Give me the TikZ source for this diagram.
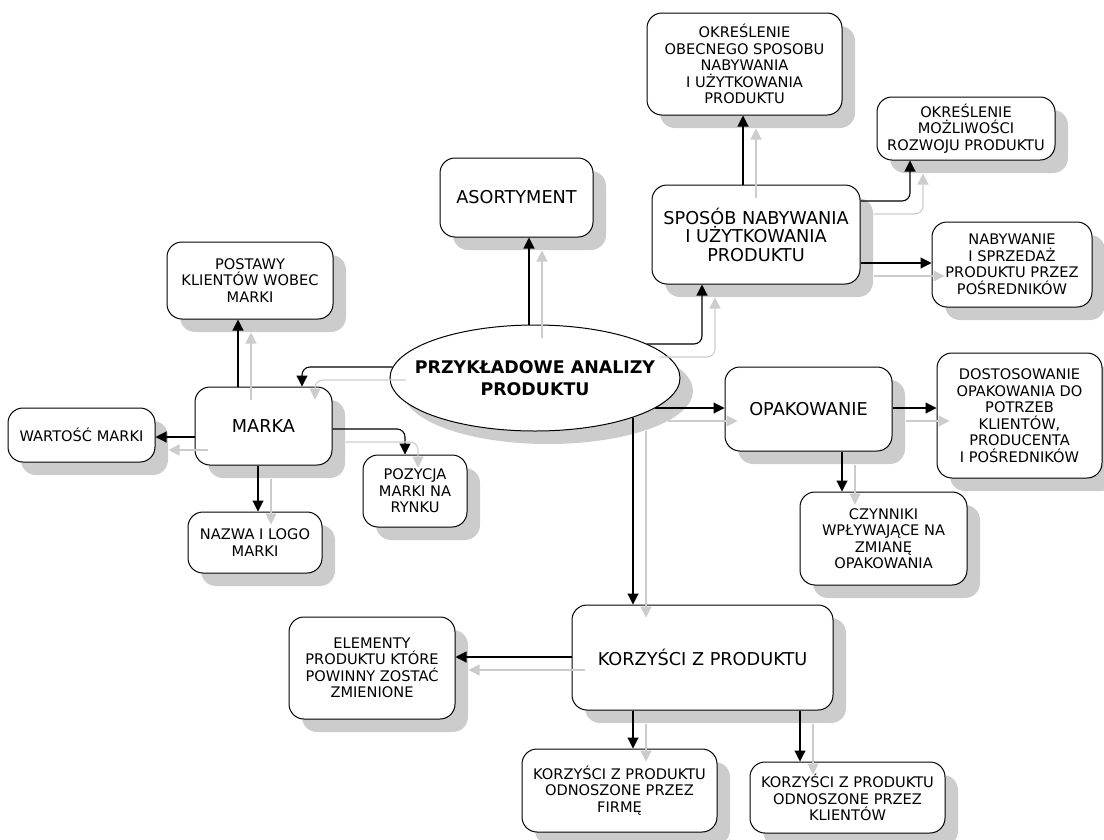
\documentclass[tikz,border=0pt]{standalone}
\usepackage{fontspec}
\setmainfont{DejaVu Sans}
\usetikzlibrary{shadows,calc,arrows.meta,shapes.geometric}
\definecolor{shgray}{RGB}{204,204,204}
\tikzset{
  box/.style={draw=black, line width=1pt, rounded corners=15pt, fill=white, align=center, inner sep=2pt,
    drop shadow={shadow xshift=13pt, shadow yshift=-13pt, fill=shgray, opacity=1}},
  ellbox/.style={draw=black, line width=1pt, ellipse, fill=white, align=center, inner xsep=-24pt, inner ysep=0pt,
    drop shadow={shadow xshift=13pt, shadow yshift=-13pt, fill=shgray, opacity=1}},
  sm/.style={font=\fontsize{14.6}{16.5}\selectfont},
  bg/.style={font=\fontsize{17.7}{18.5}\selectfont},
  conn/.style={draw=black, line width=1.1pt, rounded corners=8pt, -{Triangle[length=11pt,width=11pt]}},
  gconn/.style={draw=shgray, line width=1.1pt, rounded corners=8pt, -{Triangle[length=11pt,width=11pt]},
    transform canvas={shift={(13,13)}}}
}
\begin{document}
\begin{tikzpicture}[x=1pt,y=-1pt]
\useasboundingbox (0,0) rectangle (1104,839);
\clip (0,0) rectangle (1104,839);
% nodes
\node[box, sm, minimum width=195pt, minimum height=102pt] (okr1) at (744.5,64) {OKREŚLENIE\\OBECNEGO SPOSOBU\\NABYWANIA\\I UŻYTKOWANIA\\PRODUKTU};
\node[box, sm, minimum width=178pt, minimum height=63pt] (okr2) at (966,128.5) {OKREŚLENIE\\MOŻLIWOŚCI\\ROZWOJU PRODUKTU};
\node[box, bg, minimum width=208pt, minimum height=99pt] (spos) at (756,234.5) {SPOSÓB NABYWANIA\\I UŻYTKOWANIA\\PRODUKTU};
\node[box, sm, minimum width=160pt, minimum height=85pt] (nab) at (1012,264.5) {NABYWANIE\\I SPRZEDAŻ\\PRODUKTU PRZEZ\\POŚREDNIKÓW};
\node[box, bg, minimum width=153pt, minimum height=79pt] (asort) at (516.5,197.5) {ASORTYMENT};
\node[box, sm, minimum width=166pt, minimum height=77pt] (post) at (250,280.5) {POSTAWY\\KLIENTÓW WOBEC\\MARKI};
\node[box, bg, minimum width=137pt, minimum height=78pt] (marka) at (263.5,426) {MARKA};
\node[box, sm, minimum width=147pt, minimum height=54pt] (wart) at (81.5,435) {WARTOŚĆ MARKI};
\node[box, sm, minimum width=134pt, minimum height=61pt] (nazwa) at (255,542.5) {NAZWA I LOGO\\MARKI};
\node[box, sm, minimum width=104pt, minimum height=72pt] (poz) at (415,491) {POZYCJA\\MARKI NA\\RYNKU};
\node[ellbox, font=\fontsize{17.4}{22}\selectfont\bfseries, minimum width=290pt, minimum height=106pt] (ell) at (535,378) {PRZYKŁADOWE ANALIZY\\PRODUKTU};
\node[box, bg, minimum width=167pt, minimum height=84pt] (opak) at (808.5,409) {OPAKOWANIE};
\node[box, sm, minimum width=165pt, minimum height=125pt] (dost) at (1019.5,415.5) {DOSTOSOWANIE\\OPAKOWANIA DO\\POTRZEB\\KLIENTÓW,\\PRODUCENTA\\I POŚREDNIKÓW};
\node[box, sm, minimum width=167pt, minimum height=93pt] (czyn) at (883.5,538.5) {CZYNNIKI\\WPŁYWAJĄCE NA\\ZMIANĘ\\OPAKOWANIA};
\node[box, bg, minimum width=261pt, minimum height=105pt] (korz) at (702.5,657.5) {KORZYŚCI Z PRODUKTU};
\node[box, sm, minimum width=166pt, minimum height=102pt] (elem) at (372,668) {ELEMENTY\\PRODUKTU KTÓRE\\POWINNY ZOSTAĆ\\ZMIENIONE};
\node[box, sm, minimum width=195pt, minimum height=83pt] (firma) at (619.5,790.5) {KORZYŚCI Z PRODUKTU\\ODNOSZONE PRZEZ\\FIRMĘ};
\node[box, sm, minimum width=195pt, minimum height=71pt] (klient) at (847.5,797.5) {KORZYŚCI Z PRODUKTU\\ODNOSZONE PRZEZ\\KLIENTÓW};
% connectors: black then light copy
\foreach \st in {conn,gconn}{
  \draw[\st] ($(marka.north)+(-25.5,0)$) -- ($(post.south)+(-12,0)$);
  \draw[\st] ($(marka.west)+(0,11)$) -- ($(wart.east)+(0,2)$);
  \draw[\st] ($(marka.east)+(0,3)$) -| ($(poz.north)+(-10,0)$);
  \draw[\st] ($(marka.south)+(-5.5,0)$) -- ($(nazwa.north)+(3,0)$);
  \draw[\st] ($(ell.west)+(3,-11)$) -| ($(marka.north)+(38.5,0)$);
  \draw[\st] ($(ell.east)+(-25.5,30)$) -- ($(opak.west)+(0,-1)$);
  \draw[\st] ($(ell.south)+(98,-14)$) -- ($(korz.north)+(-69.5,0)$);
  \draw[\st] ($(ell.north)+(-6,0)$) -- ($(asort.south)+(12.5,0)$);
  \draw[\st] ($(ell.east)+(-34,-34)$) -| ($(spos.south)+(-54,0)$);
  \draw[\st] ($(spos.north)+(-13,0)$) -- ($(okr1.south)+(-1.5,0)$);
  \draw[\st] ($(spos.east)+(0,-33.5)$) -| ($(okr2.south)+(-56,0)$);
  \draw[\st] ($(spos.east)+(0,28.5)$) -- ($(nab.west)+(0,-1.5)$);
  \draw[\st] ($(opak.east)+(0,-1)$) -- ($(dost.west)+(0,-7.5)$);
  \draw[\st] ($(opak.south)+(33.5,0)$) -- ($(czyn.north)+(-41.5,0)$);
  \draw[\st] ($(korz.west)+(0,-0.5)$) -- ($(elem.east)+(0,-11)$);
  \draw[\st] ($(korz.south)+(-69.5,0)$) -- ($(firma.north)+(13.5,0)$);
  \draw[\st] ($(korz.south)+(97.5,0)$) -- ($(klient.north)+(-47.5,0)$);
}
\end{tikzpicture}
\end{document}
